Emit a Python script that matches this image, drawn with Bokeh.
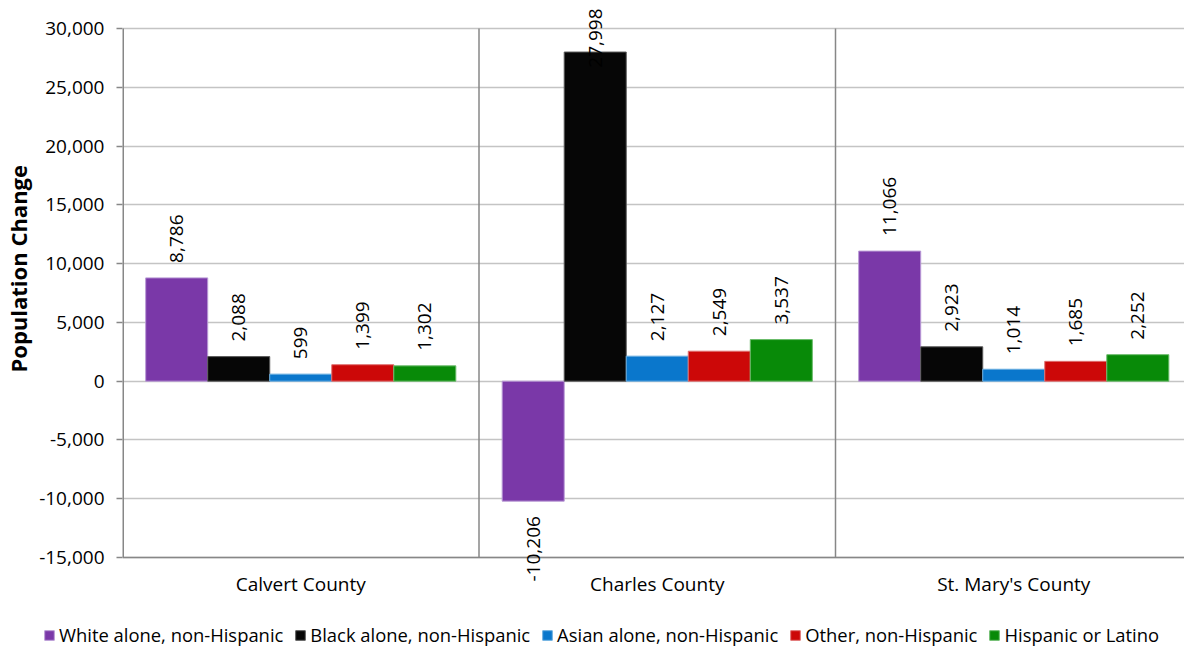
import numpy as np
from bokeh.plotting import figure
from bokeh.layouts import column, row
from bokeh.models import (Range1d, FixedTicker, Legend, LegendItem,
                          ColumnDataSource, NumeralTickFormatter)
from bokeh.core.properties import value
from bokeh.embed import file_html
from bokeh.resources import INLINE

# ---------------- data ----------------
counties = ["Calvert County", "Charles County", "St. Mary's County"]
series_names = ["White alone, non-Hispanic", "Black alone, non-Hispanic",
                "Asian alone, non-Hispanic", "Other, non-Hispanic",
                "Hispanic or Latino"]
white_nh = [8786, -10206, 11066]
black_nh = [2088, 27998, 2923]
asian_nh = [599, 2127, 1014]
other_nh = [1399, 2549, 1685]
hispanic = [1302, 3537, 2252]
y_ticks = [-15000, -10000, -5000, 0, 5000, 10000, 15000, 20000, 25000, 30000]
y_title = "Population Change"

series_values = [white_nh, black_nh, asian_nh, other_nh, hispanic]
fill_colors = ["#7A38A8", "#060606", "#0A77CC", "#CC0808", "#088A08"]
edge_colors = ["#B99AD6", "#5A5A5A", "#6AAEE0", "#E07070", "#6ABB6A"]

FONT = "Open Sans"
FS = "19px"
AXIS_GRAY = "#878787"
GRID_GRAY = "#C4C4C4"

# ---------------- geometry ----------------
TOTAL_W, TOTAL_H = 1184, 648
TITLE_W = 36
LEGEND_H = 36
W = TOTAL_W - TITLE_W
H = TOTAL_H - LEGEND_H
left_border = 122 - TITLE_W
frame_w = W - left_border
frame_h = H
group_px = 356.5
y_min, y_max = y_ticks[0], y_ticks[-1]
top_px, axis_bottom_px = 28.0, 557.0
units_per_px = (y_max - y_min) / (axis_bottom_px - top_px)
y_top = y_max + top_px * units_per_px
y_bottom = y_min - (frame_h - axis_bottom_px) * units_per_px
x_end = frame_w / group_px

bar_w = 0.174
n_series = len(series_values)
n_groups = len(counties)

def bare(fig):
    fig.xgrid.visible = False
    fig.ygrid.visible = False
    return fig

p = figure(width=W, height=H, output_backend="svg", toolbar_location=None,
           x_range=Range1d(0, x_end), y_range=Range1d(y_bottom, y_top),
           x_axis_location=None,
           min_border_left=left_border, min_border_right=0,
           min_border_top=0, min_border_bottom=0,
           outline_line_color=None, background_fill_color="white",
           border_fill_color="white")

# grid
p.xgrid.visible = False
p.ygrid.ticker = FixedTicker(ticks=y_ticks)
p.ygrid.grid_line_color = GRID_GRAY
p.ygrid.grid_line_width = 1.5

# group separators, y-axis line, category axis line
sep_x = list(range(1, n_groups))
p.segment(x0=sep_x, y0=y_min, x1=sep_x, y1=y_max, line_color=AXIS_GRAY, line_width=1.5)
p.segment(x0=[0], y0=y_min, x1=[0], y1=y_max, line_color=AXIS_GRAY, line_width=3)
p.segment(x0=[0], y0=y_min, x1=[x_end], y1=y_min, line_color=AXIS_GRAY, line_width=1.5)

# bars + labels
for i, vals in enumerate(series_values):
    xs = [g + 0.5 + (i - (n_series - 1) / 2) * bar_w for g in range(n_groups)]
    src = ColumnDataSource(dict(x=xs, top=vals))
    p.vbar(x="x", top="top", bottom=0, width=bar_w, source=src,
           fill_color=fill_colors[i], line_color=edge_colors[i], line_width=1)

    lab_y, lab_align, lab_off, lab_txt = [], [], [], []
    for v in vals:
        lab_txt.append(f"{v:,}")
        if v >= 0:
            if v + 75 * units_per_px > y_top:
                lab_y.append(y_top); lab_align.append("right"); lab_off.append(8)
            else:
                lab_y.append(v); lab_align.append("left"); lab_off.append(-15)
        else:
            lab_y.append(v); lab_align.append("right"); lab_off.append(15)
    lsrc = ColumnDataSource(dict(x=xs, y=lab_y, t=lab_txt, a=lab_align, o=lab_off))
    p.text(x="x", y="y", text="t", source=lsrc, angle=np.pi / 2,
           text_align="a", y_offset="o", text_baseline="middle",
           text_font=value(FONT), text_font_size=FS, text_color="#000000")

# category labels
csrc = ColumnDataSource(dict(x=[g + 0.5 for g in range(n_groups)],
                             y=[y_min] * n_groups, t=counties))
p.text(x="x", y="y", text="t", source=csrc, y_offset=26,
       text_align="center", text_baseline="alphabetic",
       text_font=value(FONT), text_font_size=FS, text_color="#000000")

# y axis
yax = p.yaxis[0]
yax.ticker = FixedTicker(ticks=y_ticks)
yax.formatter = NumeralTickFormatter(format="0,0")
yax.axis_line_color = None
yax.major_tick_line_color = AXIS_GRAY
yax.major_tick_line_width = 1.5
yax.major_tick_out = 6
yax.major_tick_in = 0
yax.minor_tick_line_color = None
yax.major_label_standoff = 12
yax.major_label_text_font = FONT
yax.major_label_text_font_size = FS
yax.major_label_text_color = "#000000"

# ---------------- y title strip ----------------
tf = figure(width=TITLE_W, height=H, output_backend="svg", toolbar_location=None,
            x_range=Range1d(0, TITLE_W), y_range=Range1d(0, H),
            x_axis_location=None, y_axis_location=None,
            min_border_left=0, min_border_right=0, min_border_top=0, min_border_bottom=0,
            outline_line_color=None, border_fill_color="white")
bare(tf)
tf.text(x=[17], y=[H - 372], text=[y_title], angle=np.pi / 2,
        text_align="left", text_baseline="middle",
        text_font=value(FONT), text_font_style="bold", text_font_size="22px",
        text_color="#000000")

# ---------------- legend strip ----------------
lf = figure(width=TOTAL_W, height=LEGEND_H, output_backend="svg", toolbar_location=None,
            x_range=Range1d(0, 1), y_range=Range1d(0, 1),
            x_axis_location=None, y_axis_location=None,
            min_border_left=0, min_border_right=0, min_border_top=0, min_border_bottom=0,
            outline_line_color=None, border_fill_color="white")
bare(lf)
items = []
for i, name in enumerate(series_names):
    # legend swatch renderer (kept outside the visible range of the strip)
    r = lf.vbar(x=[-10], top=[0], bottom=[0], width=0.1, fill_color=fill_colors[i],
                line_color=edge_colors[i], line_width=1)
    items.append(LegendItem(label=name, renderers=[r]))
legend = Legend(items=items, orientation="horizontal", location=(43, 1),
                glyph_width=12, glyph_height=12, label_standoff=4, spacing=11,
                padding=0, margin=0, border_line_color=None,
                background_fill_alpha=0,
                label_text_font=FONT, label_text_font_size="18.4px",
                label_text_color="#000000")
lf.add_layout(legend)

layout = column(row(tf, p, spacing=0), lf, spacing=0)
open("out.html", "w").write(file_html(layout, INLINE))
